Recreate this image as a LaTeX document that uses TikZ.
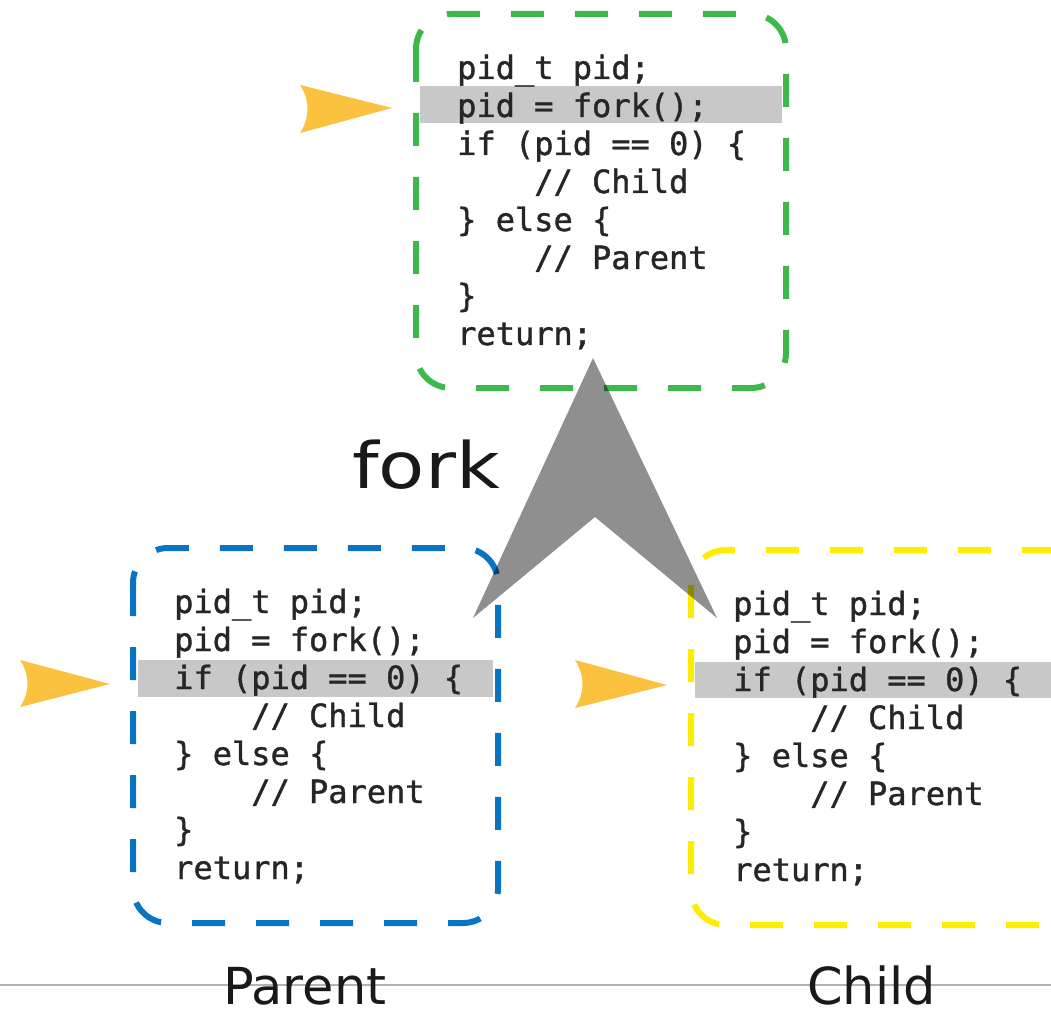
\documentclass[tikz,border=0pt]{standalone}
\usepackage{fontspec}
\setmainfont{DejaVu Sans}
\setsansfont{DejaVu Sans}
\setmonofont{DejaVu Sans Mono}
\newfontfamily\codefont[FakeBold=1.2]{DejaVu Sans Mono}
\definecolor{boxgreen}{RGB}{60,185,74}
\definecolor{boxblue}{RGB}{10,116,196}
\definecolor{boxyellow}{RGB}{255,236,0}
\definecolor{ptr}{RGB}{251,194,63}
\definecolor{hl}{RGB}{200,200,200}
\definecolor{rulegray}{RGB}{180,180,168}
\newcommand{\codelines}{\begin{tabular}[t]{@{}l@{}}pid\_t pid;\\ pid = fork();\\ if (pid == 0) \{\\ \phantom{xxxx}// Child\\ \} else \{\\ \phantom{xxxx}// Parent\\ \}\\ return;\end{tabular}}
\tikzset{
  codebox/.style={line width=6pt, dash pattern=on 33pt off 31pt, rounded corners=35pt},
  hlbar/.style={fill=hl, draw=none},
  pointer/.style={fill=ptr, draw=none},
  code/.style={anchor=base west, inner sep=0pt, font=\fontsize{32}{38}\selectfont\codefont, text=black!85},
  biglabel/.style={anchor=base west, inner sep=0pt, font=\fontsize{51}{58}\selectfont\sffamily, text=black!90},
}
\begin{document}
\begin{tikzpicture}[x=1pt,y=-1pt]
\useasboundingbox (0,0) rectangle (1051,1011);
\clip (0,0) rectangle (1051,1011);
% highlight bars
\fill[hlbar] (420,86) rectangle (782,123);
\fill[hlbar] (138,660) rectangle (493,697);
\fill[hlbar] (695,662) rectangle (1051,698);
% boxes
\draw[codebox, boxgreen] (416,14) rectangle (786,388);
\draw[codebox, boxblue] (133,548) rectangle (498,923);
\draw[codebox, boxyellow] (691,550) rectangle (1082,925);
% code
\node[code] (topcode) at (457,79) {\codelines};
\node[code] (parentcode) at (174,613) {\codelines};
\node[code] (childcode) at (733,615) {\codelines};
% fork arrow
\coordinate (forktip) at (593,358);
\coordinate (forkleft) at (473,618);
\coordinate (forkright) at (717,618);
\coordinate (forknotch) at (595,517);
\fill[black, fill opacity=0.44] (forktip) -- (forkright) -- (forknotch) -- (forkleft) -- cycle;
% pointers
\fill[pointer] (300,85) -- (392,108) -- (300,133) .. controls (310,118) and (310,100) .. (300,85);
\fill[pointer] (20,660) -- (110,684) -- (20,707) .. controls (30,692) and (30,675) .. (20,660);
\fill[pointer] (575,660) -- (667,685) -- (575,708) .. controls (585,693) and (585,676) .. (575,660);
% rule line
\draw[rulegray, line width=2pt] (0,985) -- (1051,985);
% labels
\node[biglabel, font=\fontsize{64}{70}\selectfont\sffamily, xscale=1.18] (forklabel) at (352,488) {fork};
\node[biglabel] (parentlabel) at (223,1004) {Parent};
\node[biglabel] (childlabel) at (807,1004) {Child};
\end{tikzpicture}
\end{document}
